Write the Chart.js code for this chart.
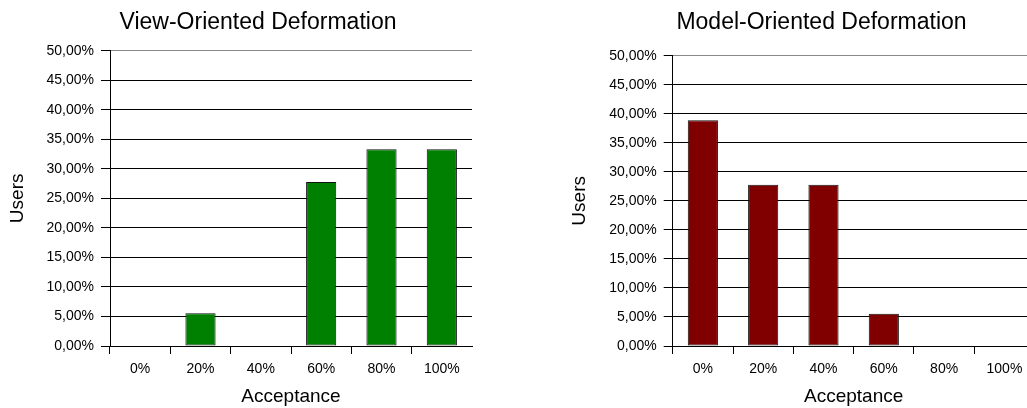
<!DOCTYPE html>
<html>
<head>
<meta charset="utf-8">
<script src="https://cdn.jsdelivr.net/npm/chart.js@4/dist/chart.umd.min.js"></script>
<style>
html, body { margin: 0; padding: 0; background: #fff; overflow: hidden; width: 1027px; height: 408px; }
canvas { position: absolute; top: 0; }
#viewChart { left: 0; }
#modelChart { left: 540px; }
</style>
</head>
<body>
<canvas id="viewChart" width="516" height="408"></canvas>
<canvas id="modelChart" width="563" height="408"></canvas>
<script>
"use strict";

// acceptance levels on the x axis
const acceptance = ['0%', '20%', '40%', '60%', '80%', '100%'];
// share of users, in percent
const viewUsers = [0, 5.56, 0, 27.78, 33.33, 33.33];
const modelUsers = [38.89, 27.78, 27.78, 5.56, 0, 0];

const viewTitle = 'View-Oriented Deformation';
const modelTitle = 'Model-Oriented Deformation';
const xTitle = 'Acceptance';
const yTitle = 'Users';

Chart.defaults.font.family = '"Liberation Sans", Arial, sans-serif';
Chart.defaults.color = '#000';

function percentLabel(v) {
    return v.toFixed(2).replace('.', ',') + '%';
}

function makeChart(id, title, values, color, o) {
    const ctx = document.getElementById(id).getContext('2d');
    return new Chart(ctx, {
        type: 'bar',
        data: {
            labels: acceptance,
            datasets: [{
                data: values,
                backgroundColor: color,
                borderColor: '#111',
                borderWidth: 1,
                borderSkipped: false,
                categoryPercentage: 1,
                barPercentage: 0.5
            }]
        },
        options: {
            responsive: false,
            animation: false,
            layout: { padding: 0 },
            plugins: {
                legend: { display: false },
                tooltip: { enabled: false },
                title: {
                    display: true,
                    text: title,
                    color: '#000',
                    font: { size: 23, weight: 'normal' },
                    padding: { top: 8.5, bottom: o.titleBottom }
                }
            },
            scales: {
                x: {
                    grid: {
                        offset: true,
                        drawOnChartArea: false,
                        drawTicks: true,
                        tickLength: 8,
                        // no tick mark at the right end of the axis
                        tickColor: function (c) { return c.tick ? '#000' : 'rgba(0,0,0,0)'; }
                    },
                    border: { display: true, color: '#000', width: 1 },
                    ticks: { font: { size: 14 }, padding: 7, color: '#000' },
                    title: {
                        display: true,
                        text: xTitle,
                        font: { size: 19 },
                        padding: { top: 0, bottom: o.xTitlePad }
                    },
                    afterFit: function (s) { s.height = 62; }
                },
                y: {
                    min: 0,
                    max: 50,
                    grid: {
                        color: function (c) { return c.tick && c.tick.value === 50 ? '#888' : '#000'; },
                        tickColor: '#000',
                        tickLength: 9
                    },
                    border: { display: true, color: '#000', width: 1 },
                    ticks: {
                        stepSize: 5,
                        font: { size: 14 },
                        padding: 7,
                        color: '#000',
                        callback: percentLabel
                    },
                    title: {
                        display: true,
                        text: yTitle,
                        font: { size: 19 },
                        padding: { top: o.yTitlePad, bottom: 0 }
                    },
                    afterFit: function (s) { s.width = o.yWidth; }
                },
                // empty axis that only keeps room on the right
                spare: {
                    type: 'linear',
                    position: 'right',
                    display: true,
                    grid: { display: false },
                    border: { display: false },
                    ticks: { display: false },
                    afterFit: function (s) { s.width = o.rightRoom; }
                }
            }
        }
    });
}

makeChart('viewChart', viewTitle, viewUsers, '#008000',
    { titleBottom: 14.6, xTitlePad: 0, yTitlePad: 6, yWidth: 110, rightRoom: 44 });
makeChart('modelChart', modelTitle, modelUsers, '#800000',
    { titleBottom: 19.6, xTitlePad: 0, yTitlePad: 28.6, yWidth: 132.7, rightRoom: 68.4 });
</script>
</body>
</html>
